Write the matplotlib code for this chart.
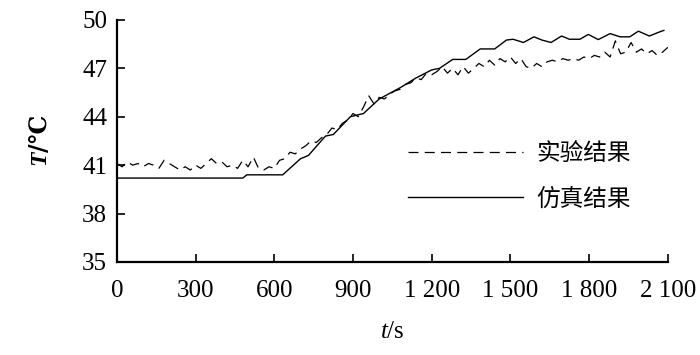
import matplotlib
matplotlib.use("Agg")
from matplotlib import pyplot as plt

# experimental data (dashed)
exp_t = list(range(0, 2101, 20))
exp_T = [41.1, 40.9, 41.2, 41.0, 41.1, 40.9, 41.1, 41.0, 40.8, 41.3,
         41.1, 40.9, 40.7, 40.9, 40.7, 41.0, 40.8, 41.1, 41.4, 41.1,
         41.2, 40.9, 41.0, 40.8, 41.3, 40.9, 41.5, 40.8, 40.7, 40.9,
         40.8, 41.3, 41.4, 41.8, 41.7, 42.0, 42.2, 42.5, 42.4, 42.7,
         42.9, 43.3, 43.2, 43.6, 43.8, 44.2, 44.0, 44.6, 45.3, 44.8,
         45.2, 45.1, 45.4, 45.6, 45.7, 46.0, 46.1, 46.4, 46.3, 46.7,
         46.6, 46.8, 47.1, 46.7, 47.0, 46.6, 47.1, 46.7, 47.0, 47.3,
         47.1, 47.5, 47.2, 47.6, 47.4, 47.7, 47.3, 47.6, 47.1, 47.0,
         47.3, 47.1, 47.4, 47.5, 47.4, 47.6, 47.5, 47.6, 47.5, 47.7,
         47.6, 47.8, 47.7, 48.0, 47.7, 48.7, 47.9, 48.0, 48.6, 48.0,
         48.2, 47.9, 48.1, 47.8, 48.0, 48.3]

# simulation data (solid)
sim_t = [0, 480, 495, 632, 700, 730, 795, 825, 890, 940, 1000, 1080,
         1140, 1200, 1230, 1280, 1330, 1385, 1440, 1485, 1510, 1550,
         1590, 1620, 1655, 1695, 1725, 1765, 1797, 1835, 1880, 1918,
         1955, 1988, 2030, 2060, 2085]
sim_T = [40.2, 40.2, 40.4, 40.4, 41.4, 41.6, 42.8, 42.9, 44.0, 44.2,
         45.1, 45.8, 46.4, 46.9, 47.0, 47.55, 47.55, 48.2, 48.2, 48.75,
         48.8, 48.6, 48.95, 48.75, 48.6, 49.0, 48.8, 48.8, 49.1, 48.78,
         49.15, 48.95, 48.95, 49.3, 49.0, 49.2, 49.35]

x_ticks = [0, 300, 600, 900, 1200, 1500, 1800, 2100]
x_labels = ["0", "300", "600", "900", "1 200", "1 500", "1 800", "2 100"]
y_ticks = [35, 38, 41, 44, 47, 50]
labels = ["实验结果", "仿真结果"]

plt.rcParams["font.family"] = ["Liberation Serif", "DejaVu Serif"]
plt.rcParams["mathtext.fontset"] = "custom"
plt.rcParams["mathtext.rm"] = "Liberation Serif"
plt.rcParams["mathtext.it"] = "Liberation Serif:italic"
plt.rcParams["mathtext.bf"] = "Liberation Serif:italic:bold"

fig = plt.figure(figsize=(7, 3.55), dpi=100)
ax = fig.add_axes([0.167, 0.262, 0.787, 0.682])

ax.plot(exp_t, exp_T, color="black", lw=0.9, linestyle=(0, (8, 5)), label=labels[0])
ax.plot(sim_t, sim_T, color="black", lw=1.0, label=labels[1])

ax.set_xlim(0, 2100)
ax.set_ylim(35, 50)
ax.set_xticks(x_ticks)
ax.set_xticklabels(x_labels)
ax.set_yticks(y_ticks)
ax.tick_params(direction="in", length=6, width=1.2, labelsize=18, pad=7)
ax.tick_params(axis="x", pad=13)

for s in ["top", "right"]:
    ax.spines[s].set_visible(False)
for s in ["left", "bottom"]:
    ax.spines[s].set_linewidth(1.6)

ax.set_xlabel("$t$/s", fontsize=18, labelpad=14)
ax.set_ylabel(r"$\mathbf{T}$/℃", fontsize=17, family="DejaVu Serif",
              fontweight="bold", labelpad=22)

leg = ax.legend(loc="center left", bbox_to_anchor=(0.528, 0.353), frameon=False,
                handlelength=4.9, handletextpad=0.55, labelspacing=0.95,
                borderpad=0, borderaxespad=0,
                prop={"family": ["Noto Sans CJK SC"], "size": 17})

plt.savefig("out.png", dpi=100)
plt.close()
